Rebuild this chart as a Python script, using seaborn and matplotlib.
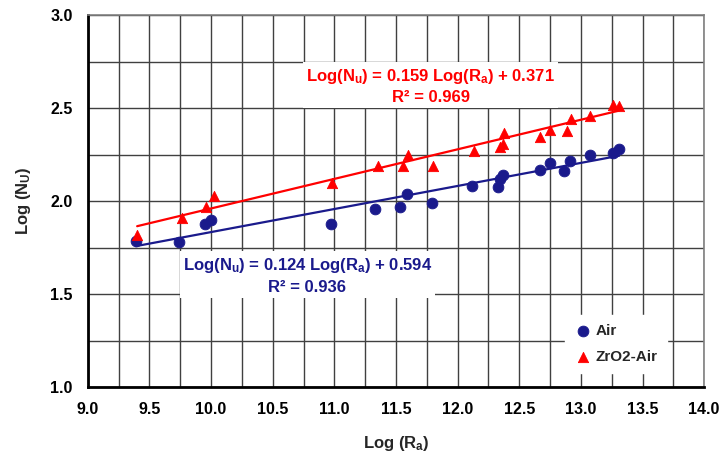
import numpy as np
import pandas as pd
import seaborn as sns
import matplotlib.pyplot as plt
from matplotlib.ticker import MultipleLocator

# values
air_log_ra = [9.39, 9.74, 9.95, 10.00, 10.97, 11.33, 11.53, 11.59, 11.79, 12.12,
              12.33, 12.34, 12.37, 12.67, 12.75, 12.86, 12.91, 13.07, 13.26, 13.31]
air_log_nu = [1.785, 1.78, 1.875, 1.90, 1.875, 1.96, 1.97, 2.04, 1.99, 2.08,
              2.075, 2.12, 2.14, 2.17, 2.205, 2.16, 2.215, 2.25, 2.26, 2.28]

zro2_log_ra = [9.40, 9.76, 9.96, 10.02, 10.98, 11.35, 11.56, 11.60, 11.80, 12.13,
               12.34, 12.37, 12.38, 12.67, 12.75, 12.89, 12.92, 13.07, 13.26, 13.31]
zro2_log_nu = [1.82, 1.91, 1.97, 2.03, 2.10, 2.19, 2.19, 2.25, 2.19, 2.27,
               2.29, 2.31, 2.365, 2.345, 2.385, 2.375, 2.44, 2.46, 2.515, 2.51]

# trendline coefficients as printed on the chart
air_fit = (0.124, 0.594, 0.936)
zro2_fit = (0.159, 0.371, 0.969)

AIR_COLOR = "#1a1a8c"
ZRO2_COLOR = "#ff0000"

sns.set_style("white")
plt.rcParams["font.family"] = ["Liberation Sans", "DejaVu Sans"]
plt.rcParams["font.weight"] = "bold"
plt.rcParams["mathtext.fontset"] = "custom"
plt.rcParams["mathtext.rm"] = "Liberation Sans:bold"
plt.rcParams["mathtext.it"] = "Liberation Sans:bold"
plt.rcParams["mathtext.bf"] = "Liberation Sans:bold"
plt.rcParams["mathtext.default"] = "rm"

fig, ax = plt.subplots(figsize=(7.2, 4.62), dpi=100)
fig.subplots_adjust(left=0.122, right=0.978, top=0.967, bottom=0.162)


def trend(x, fit):
    xs = np.array([min(x), max(x)])
    return xs, fit[0] * xs + fit[1]


xs, ys = trend(air_log_ra, air_fit)
sns.lineplot(x=xs, y=ys, ax=ax, color=AIR_COLOR, linewidth=1.6, zorder=3)
xs, ys = trend(zro2_log_ra, zro2_fit)
sns.lineplot(x=xs, y=ys, ax=ax, color=ZRO2_COLOR, linewidth=1.6, zorder=3)

sns.scatterplot(x=air_log_ra, y=air_log_nu, ax=ax, color=AIR_COLOR, marker="o",
                s=60, edgecolor=AIR_COLOR, label="Air", zorder=4)
sns.scatterplot(x=zro2_log_ra, y=zro2_log_nu, ax=ax, color=ZRO2_COLOR, marker="^",
                s=55, edgecolor=ZRO2_COLOR, label="ZrO2-Air", zorder=4)

ax.set_xlim(9.0, 14.0)
ax.set_ylim(1.0, 3.0)
ax.xaxis.set_major_locator(MultipleLocator(0.5))
ax.yaxis.set_major_locator(MultipleLocator(0.5))
ax.xaxis.set_minor_locator(MultipleLocator(0.25))
ax.yaxis.set_minor_locator(MultipleLocator(0.25))
ax.xaxis.set_major_formatter("{x:.1f}")
ax.yaxis.set_major_formatter("{x:.1f}")
ax.grid(which="both", color="#404040", linewidth=1.0)
ax.set_axisbelow(True)

ax.tick_params(axis="both", which="major", direction="out", length=5, width=1.5,
               labelsize=11.5, colors="black", pad=6)
ax.tick_params(axis="both", which="minor", length=0)
for lab in ax.get_xticklabels() + ax.get_yticklabels():
    lab.set_fontweight("bold")

for side in ["left", "bottom"]:
    ax.spines[side].set_color("black")
    ax.spines[side].set_linewidth(2)
for side in ["top", "right"]:
    ax.spines[side].set_color("#808080")
    ax.spines[side].set_linewidth(1.2)

ax.set_xlabel("Log (R$_a$)", fontsize=12, fontweight="bold", labelpad=12)
ax.set_ylabel("Log (N$_U$)", fontsize=12, fontweight="bold", labelpad=12)

box = dict(facecolor="white", edgecolor="none", pad=2)
ax.text(11.78, 2.62,
        f"Log(N$_u$) = {zro2_fit[0]:.3f} Log(R$_a$) + {zro2_fit[1]:.3f}\nR\u00b2 = {zro2_fit[2]:.3f}",
        color=ZRO2_COLOR, fontsize=12, fontweight="bold", ha="center", va="center",
        linespacing=1.4, bbox=box, zorder=5)
ax.text(10.78, 1.60,
        f"Log(N$_u$) = {air_fit[0]:.3f} Log(R$_a$) + {air_fit[1]:.3f}\nR\u00b2 = {air_fit[2]:.3f}",
        color=AIR_COLOR, fontsize=12, fontweight="bold", ha="center", va="center",
        linespacing=1.4, bbox=box, zorder=5)

leg = ax.legend(loc="upper left", bbox_to_anchor=(0.762, 0.215), frameon=True,
                fancybox=False, edgecolor="white", framealpha=1.0, handletextpad=0.2,
                borderpad=0.6, labelspacing=0.8, fontsize=11, handlelength=1.2)
for t in leg.get_texts():
    t.set_fontweight("bold")

fig.savefig("out.png", dpi=100)
